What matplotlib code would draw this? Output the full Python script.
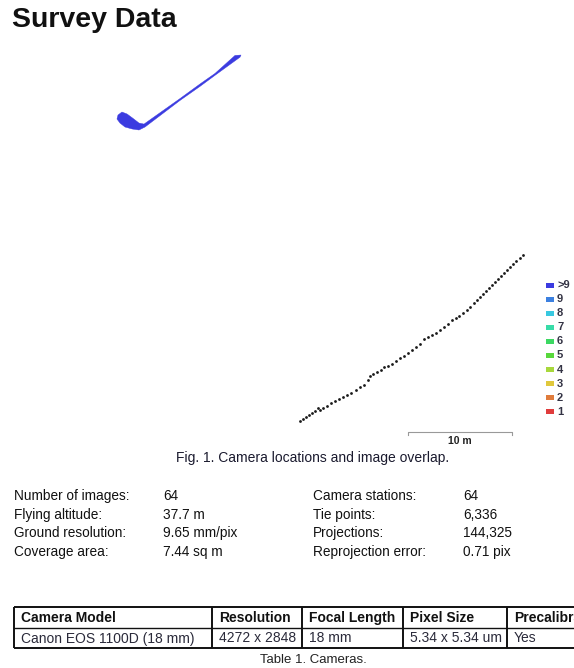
"""Survey Data page: camera locations / image overlap map, summary and camera table."""
import matplotlib
matplotlib.use("Agg")
import matplotlib.pyplot as plt
from matplotlib.patches import Polygon, Rectangle

plt.rcParams["font.family"] = ["Liberation Sans", "DejaVu Sans"]

W, H, DPI = 574, 668, 100

# camera positions, local metres (east, north)
cam_x = [0.00, 0.29, 0.58, 0.87, 1.15, 1.44, 1.73, 1.92, 2.21, 2.60, 2.98, 3.37,
         3.75, 4.13, 4.52, 4.90, 5.38, 5.77, 6.15, 6.54, 6.73, 7.02, 7.40, 7.79,
         8.08, 8.46, 8.85, 9.23, 9.62, 10.00, 10.38, 10.77, 11.15, 11.54, 11.92,
         12.31, 12.69, 13.08, 13.46, 13.85, 14.23, 14.62, 15.00, 15.29, 15.67,
         16.06, 16.35, 16.73, 17.02, 17.31, 17.60, 17.88, 18.17, 18.46, 18.75,
         19.04, 19.33, 19.62, 19.90, 20.19, 20.48, 20.77, 21.15, 21.44]
cam_y = [0.00, 0.19, 0.38, 0.58, 0.77, 0.96, 1.25, 1.06, 1.25, 1.44, 1.73, 1.92,
         2.12, 2.31, 2.50, 2.69, 2.98, 3.27, 3.46, 3.94, 4.33, 4.52, 4.71, 4.90,
         5.19, 5.29, 5.48, 5.77, 6.06, 6.25, 6.54, 6.83, 7.12, 7.40, 7.88, 8.08,
         8.27, 8.46, 8.75, 9.04, 9.33, 9.71, 9.90, 10.10, 10.38, 10.67, 10.96,
         11.35, 11.63, 11.92, 12.21, 12.50, 12.79, 13.08, 13.37, 13.65, 13.94,
         14.23, 14.52, 14.81, 15.10, 15.38, 15.67, 15.96]

# image overlap footprint (>9 images), local metres
overlap_x = [-17.50, -17.12, -16.63, -16.06, -15.48, -15.00, -11.54, -9.62, -8.17,
             -6.25, -5.67, -5.77, -8.17, -9.62, -11.54, -14.90, -15.48, -16.15,
             -16.83, -17.31, -17.60]
overlap_y = [29.42, 29.71, 29.52, 29.10, 28.65, 28.55, 31.00, 32.40, 33.42,
             35.15, 35.19, 34.98, 33.24, 32.17, 30.82, 28.27, 27.98, 28.08,
             28.27, 28.65, 29.04]

legend_labels = [">9", "9", "8", "7", "6", "5", "4", "3", "2", "1"]
legend_colors = ["#3b3be0", "#3c80e0", "#38c8e0", "#38dca8", "#3cd862",
                 "#58d83c", "#a8d83c", "#e0c83c", "#e07c3c", "#e03c3c"]

scale_m = 10

stats_left = [("Number of images:", "64"), ("Flying altitude:", "37.7 m"),
              ("Ground resolution:", "9.65 mm/pix"), ("Coverage area:", "7.44 sq m")]
stats_right = [("Camera stations:", "64"), ("Tie points:", "6,336"),
               ("Projections:", "144,325"), ("Reprojection error:", "0.71 pix")]

table_header = ["Camera Model", "Resolution", "Focal Length", "Pixel Size", "Precalibrated"]
table_row = ["Canon EOS 1100D (18 mm)", "4272 x 2848", "18 mm", "5.34 x 5.34 um", "Yes"]

fig = plt.figure(figsize=(W / DPI, H / DPI), dpi=DPI)
fig.patch.set_facecolor("white")

# map axes, placed in pixels; 10.4 px per metre, origin at first camera
PPM = 10.4
ox, oy = 300, 421
mx0, mx1, my0, my1 = 100, 530, 40, 440
ax = fig.add_axes([mx0 / W, 1 - my1 / H, (mx1 - mx0) / W, (my1 - my0) / H])
ax.set_xlim((mx0 - ox) / PPM, (mx1 - ox) / PPM)
ax.set_ylim((oy - my1) / PPM, (oy - my0) / PPM)
ax.axis("off")

ax.add_patch(Polygon(list(zip(overlap_x, overlap_y)), closed=True,
                     facecolor=legend_colors[0], edgecolor=legend_colors[0],
                     lw=0.3))
ax.scatter(cam_x, cam_y, s=4, color="#1a1a1a", lw=0, zorder=3)

# scale bar
sb_x0 = (408 - ox) / PPM
sb_y = (oy - 432) / PPM
tick = 3 / PPM
ax.plot([sb_x0, sb_x0, sb_x0 + scale_m, sb_x0 + scale_m],
        [sb_y - tick, sb_y, sb_y, sb_y - tick], color="#999999", lw=0.8,
        clip_on=False)

# page overlay in pixel coordinates
pg = fig.add_axes([0, 0, 1, 1])
pg.set_xlim(0, W)
pg.set_ylim(H, 0)
pg.axis("off")
pg.patch.set_alpha(0)

pg.text(12, 20, "Survey Data", fontsize=20.5, fontweight="bold", va="center",
        ha="left", color="#111111")

pg.text(460, 441, f"{scale_m} m", fontsize=7.5, fontweight="bold",
        ha="center", va="center", color="#222222")
pg.text(313, 458, "Fig. 1. Camera locations and image overlap.", fontsize=10,
        ha="center", va="center", color="#1a1a2e")

for i, (lab, col) in enumerate(zip(legend_labels, legend_colors)):
    y = 285 + i * 14.1
    pg.add_patch(Rectangle((546, y - 2.5), 8, 5, facecolor=col, edgecolor="none"))
    pg.text(557, y, lab, fontsize=8, fontweight="bold", va="center",
            ha="left", color="#333344")

for i, ((l1, v1), (l2, v2)) in enumerate(zip(stats_left, stats_right)):
    y = 496 + i * 18.7
    pg.text(14, y, l1, fontsize=9.8, va="center", color="#111111")
    pg.text(163, y, v1, fontsize=9.8, va="center", color="#111111")
    pg.text(313, y, l2, fontsize=9.8, va="center", color="#111111")
    pg.text(463, y, v2, fontsize=9.8, va="center", color="#111111")

# camera table (last column runs off the page edge, as in the source)
col_edges = [14, 212, 302, 403, 507, 640]
row_edges = [607, 628, 648]
line_kw = dict(color="#111111", lw=1.4, solid_capstyle="butt")
pg.plot([col_edges[0], W + 5], [row_edges[0]] * 2, **line_kw)
pg.plot([col_edges[0], W + 5], [row_edges[-1]] * 2, **line_kw)
pg.plot([col_edges[0], W + 5], [row_edges[1]] * 2, color="#111111", lw=1.0)
for x in col_edges[:-1]:
    pg.plot([x, x], [row_edges[0], row_edges[-1]], **line_kw)
for r, cells in enumerate([table_header, table_row]):
    y0, y1 = row_edges[r], row_edges[r + 1]
    for c, txt in enumerate(cells):
        pg.text(col_edges[c] + 7, (y0 + y1) / 2 + 0.5, txt, fontsize=10,
                fontweight="bold" if r == 0 else "normal", va="center",
                ha="left", color="#111111" if r == 0 else "#2a2a3a")

pg.text(313, 660, "Table 1. Cameras.", fontsize=9.5, ha="center", va="center",
        color="#222222")

fig.savefig("out.png", dpi=DPI)
